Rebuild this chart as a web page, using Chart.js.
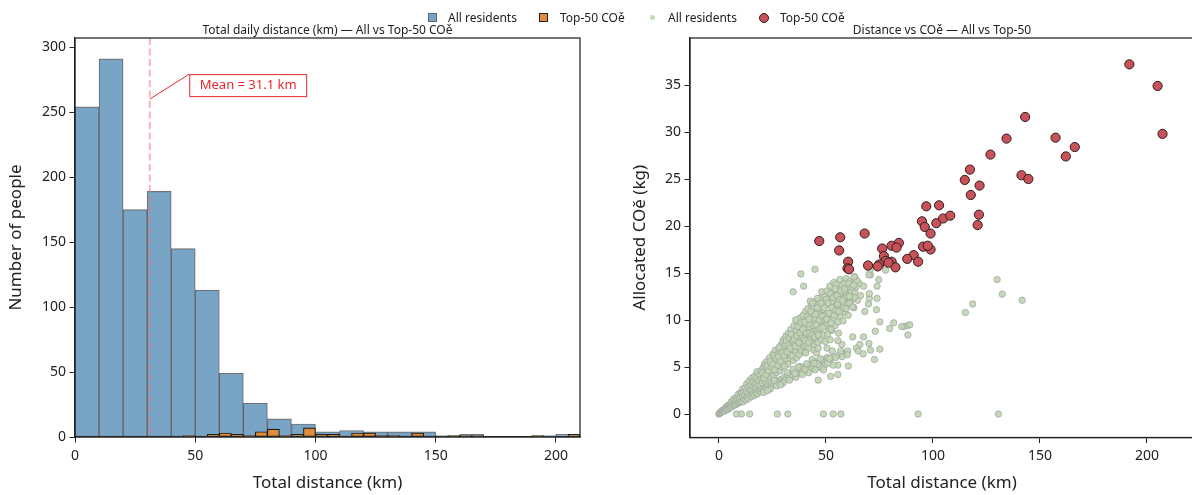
<!DOCTYPE html>
<html lang="en">
<head>
<meta charset="UTF-8" />
<title>Distance vs CO2e</title>
<script src="https://cdn.jsdelivr.net/npm/chart.js"></script>
<style>
  body { margin: 0; width: 1192px; height: 495px; overflow: hidden; background: #fff; position: relative; font-family: "Noto Sans", sans-serif; }
  canvas { position: absolute; top: 0; }
  #histChart { left: 0; }
  #scatChart { left: 600px; }
  .lg { position: absolute; top: 10px; font-size: 12px; line-height: 15px; color: #222; white-space: nowrap; }
  .sw { position: absolute; box-sizing: border-box; }
</style>
</head>
<body>
<canvas id="histChart" width="600" height="495"></canvas>
<canvas id="scatChart" width="600" height="495"></canvas>

<!-- shared legend -->
<div class="sw" style="left:428px;top:13px;width:9px;height:9px;background:#78a5c5;border:1px solid #5d6a74"></div>
<div class="lg" style="left:448px">All residents</div>
<div class="sw" style="left:539px;top:13px;width:9px;height:9px;background:#e08c3a;border:1px solid #222"></div>
<div class="lg" style="left:560px">Top-50 COě</div>
<div class="sw" style="left:650px;top:15px;width:5px;height:5px;border-radius:50%;background:#c3d8b5"></div>
<div class="lg" style="left:668px">All residents</div>
<div class="sw" style="left:759px;top:13px;width:10px;height:10px;border-radius:50%;background:#c9525a;border:1px solid #2b1d1d"></div>
<div class="lg" style="left:780px">Top-50 COě</div>

<script>
// histogram: all residents, 10 km bins from 0
const allBinStart = 0;
const allBinWidth = 10;
const allCounts = [254, 291, 175, 189, 145, 113, 49, 26, 14, 10, 4, 5, 4, 4, 4, 1, 2, 0, 0, 1, 2];

// histogram: top-50 emitters, 5 km bins from 45
const topBinStart = 45;
const topBinWidth = 5;
const topCounts = [1, 0, 2, 3, 2, 1, 4, 6, 1, 2, 7, 2, 2, 0, 3, 3, 1, 1, 0, 3, 0, 0, 1, 1, 1, 0, 0, 0, 0, 1, 0, 0, 2];

const meanDistance = 31.1;
const histXTicks = [0, 50, 100, 150, 200];
const histYTicks = [0, 50, 100, 150, 200, 250, 300];

// scatter: top-50 [km, kg]
const topPts = [
  [191.8, 37.2], [205.0, 34.9], [207.3, 29.8], [143.1, 31.6], [134.4, 29.3], [157.3, 29.4],
  [166.3, 28.4], [162.1, 27.4], [126.9, 27.6], [117.3, 26.0], [141.4, 25.4], [144.6, 25.0],
  [114.9, 24.9], [121.8, 24.3], [117.7, 23.3], [96.9, 22.1], [102.9, 22.2], [121.5, 21.2],
  [120.9, 20.1], [94.9, 20.5], [96.2, 19.9], [101.6, 20.3], [104.8, 20.8], [108.1, 21.1],
  [98.9, 19.2], [68.1, 19.2], [56.7, 18.8], [46.9, 18.4], [56.2, 17.4], [76.3, 17.6],
  [80.7, 17.9], [84.1, 18.2], [83.0, 17.7], [95.4, 17.8], [98.9, 17.5], [77.1, 16.8],
  [91.0, 16.9], [88.0, 16.5], [93.1, 16.2], [80.7, 16.2], [77.9, 16.3], [74.9, 15.9],
  [74.2, 15.7], [82.5, 15.6], [69.7, 15.8], [60.4, 16.2], [60.1, 15.5], [60.8, 15.4],
  [79.2, 16.1], [97.6, 17.9]
];

// scatter: all residents [km, kg]
const allZeroPts = [
  [0, 0], [8.2, 0], [10.5, 0], [14.4, 0], [27.3, 0], [32.2, 0], [48.8, 0], [53.4, 0], [57, 0], [93.1, 0], [130.6, 0]
];
const allNearOrigin = [
  [0.2, 0.05], [0.5, 0.1], [0.8, 0.15], [1.1, 0.2], [1.3, 0.3], [1.6, 0.3], [1.9, 0.4], [2.2, 0.45], [2.4, 0.3], [2.8, 0.55],
  [3.1, 0.4], [3.4, 0.75], [3.6, 0.45], [3.9, 0.8], [4.2, 0.5], [4.5, 0.95], [4.7, 0.6], [5.0, 0.7], [5.2, 1.0], [5.5, 0.85],
  [5.8, 1.3], [6.0, 0.75], [6.3, 1.1], [6.6, 0.9], [6.9, 1.6], [7.2, 0.95], [7.4, 1.4], [7.7, 1.2], [7.9, 1.0], [8.3, 1.8],
  [8.6, 1.1], [8.8, 1.5], [9.1, 2.1], [9.3, 1.2], [9.6, 1.7], [9.9, 1.25], [10.2, 2.3]
];
const allUpper = [
  [10.4, 2.2], [10.9, 1.9], [11.2, 2.7], [11.5, 2.3], [12.1, 2.0], [12.4, 2.8], [12.8, 2.4], [13.0, 3.2], [13.6, 2.2], [13.8, 2.9],
  [14.1, 3.5], [14.5, 2.6], [14.9, 3.1], [15.3, 3.8], [15.5, 2.5], [15.8, 3.4], [16.2, 2.9], [16.5, 4.0], [16.9, 3.2], [17.3, 2.8],
  [17.5, 3.9], [17.8, 4.5], [18.1, 3.1], [18.5, 3.6], [18.9, 4.2], [19.2, 3.0], [19.6, 4.6], [19.9, 3.7], [20.2, 3.3], [20.6, 4.9],
  [20.9, 4.0], [21.3, 5.3], [21.5, 3.5], [21.9, 4.6], [22.2, 3.9], [22.4, 5.6], [22.8, 4.3], [23.1, 3.7], [23.4, 5.2], [23.7, 6.0],
  [24.1, 4.5], [24.3, 3.9], [24.7, 5.5], [25.0, 4.8], [25.3, 6.4], [25.5, 4.1], [25.9, 5.9], [26.2, 5.1], [26.4, 6.8], [26.8, 4.4],
  [27.1, 5.6], [27.3, 6.3], [27.7, 4.7], [28.0, 6.9], [28.3, 5.3], [28.6, 4.6], [28.9, 6.1], [29.2, 7.4], [29.5, 5.0], [29.8, 6.6],
  [30.1, 7.9], [30.3, 5.4], [30.7, 6.9], [31.0, 5.9], [31.3, 8.3], [31.6, 6.3], [31.8, 7.4], [32.2, 5.3], [32.5, 8.6], [32.7, 6.8],
  [33.0, 7.7], [33.4, 5.9], [33.6, 9.0], [33.9, 6.5], [34.3, 8.1], [34.5, 7.2], [34.8, 5.7], [35.1, 9.4], [35.4, 6.8], [35.7, 8.4],
  [36.0, 7.6], [36.3, 6.0], [36.6, 9.8], [36.8, 7.1], [37.2, 8.8], [37.5, 6.3], [37.8, 10.2], [38.1, 7.9], [38.4, 9.1], [38.6, 6.7],
  [39.0, 8.4], [39.3, 10.5], [39.5, 7.3], [39.8, 9.5], [40.0, 6.6], [30.6, 5.1], [33.2, 6.4], [36.1, 8.9], [38.9, 7.6], [35.9, 10.0],
  [40.3, 8.7], [40.5, 10.9], [40.8, 7.2], [41.1, 9.9], [41.4, 8.2], [41.6, 11.2], [42.0, 7.0], [42.3, 9.3], [42.5, 10.6], [42.8, 8.0],
  [43.2, 11.6], [43.4, 7.5], [43.7, 9.8], [44.0, 8.8], [44.2, 11.3], [44.6, 7.3], [44.8, 10.2], [45.1, 9.1], [45.4, 12.0], [45.6, 8.1],
  [45.9, 10.7], [46.2, 7.6], [46.5, 9.6], [46.8, 11.7], [47.0, 8.6], [47.3, 10.3], [47.7, 12.4], [47.9, 7.9], [48.2, 9.9], [48.5, 11.1],
  [48.8, 8.4], [49.1, 12.7], [49.3, 10.5], [49.7, 7.7], [50.0, 9.4], [40.6, 6.5], [42.7, 12.0], [44.4, 6.8], [46.1, 12.3], [48.0, 13.0],
  [41.9, 9.6], [43.9, 10.6], [45.8, 8.6], [47.5, 11.3], [49.5, 11.8],
  [50.3, 11.6], [50.5, 13.1], [50.8, 8.5], [51.1, 10.2], [51.4, 12.3], [51.6, 9.1], [51.9, 13.6], [52.2, 10.8], [52.5, 11.9], [52.8, 8.9],
  [53.1, 12.9], [53.3, 10.1], [53.7, 14.0], [54.0, 11.4], [54.2, 9.4], [54.5, 12.6], [54.8, 13.8], [55.1, 10.7], [55.3, 12.1], [55.7, 9.8],
  [56.0, 13.3], [56.2, 11.5], [56.5, 14.3], [56.8, 10.4], [57.1, 12.7], [57.4, 13.7], [57.6, 11.1], [58.0, 9.9], [58.3, 12.3], [58.6, 13.9],
  [58.9, 10.8], [59.2, 12.9], [59.5, 14.4], [59.8, 11.7], [60.1, 13.4], [60.4, 10.5], [60.8, 12.6], [61.1, 14.1], [61.4, 11.9], [61.8, 13.0],
  [62.2, 12.3], [62.6, 13.8], [63.1, 11.3], [63.5, 12.9], [64.1, 13.5], [64.8, 12.1], [65.5, 13.9], [66.2, 12.6], [52.0, 7.9], [55.9, 8.6]
];
const allUpperMore = [
  [20.4, 4.4], [21.1, 3.8], [21.7, 5.0], [22.0, 4.2], [22.6, 5.1], [23.2, 4.6], [23.9, 5.6], [24.5, 5.0], [25.2, 5.3], [25.7, 6.2],
  [26.0, 4.7], [26.6, 5.9], [27.5, 5.2], [27.8, 6.1], [28.2, 7.1], [28.7, 5.6], [29.4, 6.5], [29.9, 7.6], [30.4, 6.2], [30.9, 7.3],
  [31.5, 7.8], [31.9, 6.6], [32.4, 7.3], [32.9, 8.1], [33.3, 7.0], [33.8, 8.5], [34.1, 6.2], [34.6, 7.8], [35.2, 8.0], [35.6, 7.2],
  [36.4, 8.3], [36.9, 9.3], [37.4, 7.6], [37.9, 8.6], [38.3, 9.7], [38.8, 8.1], [39.2, 9.0], [39.7, 8.0], [40.1, 9.8], [40.4, 7.8],
  [41.0, 8.6], [41.3, 10.4], [41.8, 7.6], [42.1, 10.1], [42.4, 8.6], [43.0, 10.9], [43.5, 8.4], [43.8, 11.8], [44.3, 9.4], [44.7, 8.2],
  [45.2, 10.6], [45.5, 9.5], [46.0, 11.3], [46.4, 8.4], [46.9, 10.0], [47.4, 9.1], [47.8, 11.8], [48.3, 10.4], [48.7, 9.2], [49.2, 11.3],
  [49.6, 10.0], [50.1, 12.2], [50.4, 10.1], [51.0, 11.8], [51.5, 10.7], [52.0, 12.8], [52.4, 9.7], [52.9, 11.3], [53.4, 12.4], [53.9, 10.5],
  [54.3, 13.3], [54.7, 11.0], [55.2, 12.6], [55.5, 11.7], [56.1, 10.9], [56.6, 12.2], [57.0, 13.1], [57.8, 12.1], [58.2, 11.3], [58.8, 13.3],
  [59.4, 11.2], [59.9, 12.5], [60.6, 13.9], [61.0, 11.8], [61.6, 12.4], [62.4, 13.5], [63.3, 12.4], [64.5, 14.2]
];
const allLower = [
  [10.5, 1.35], [11.2, 1.3], [11.8, 1.55], [12.6, 1.5], [13.3, 1.75], [13.9, 1.65], [14.6, 1.9], [15.4, 1.85], [16.0, 2.1], [16.7, 2.0],
  [17.4, 2.25], [18.0, 2.15], [18.8, 2.45], [19.5, 2.35], [20.1, 2.6], [20.8, 2.5], [21.6, 2.8], [22.3, 2.7], [23.0, 3.0], [23.8, 2.85],
  [24.6, 3.2], [25.4, 3.05], [26.1, 3.35], [26.9, 3.2], [27.6, 3.55], [28.4, 3.4], [29.1, 3.7], [29.9, 3.5], [30.6, 3.9], [31.4, 3.7],
  [32.1, 4.1], [32.9, 3.85], [33.7, 4.3], [34.4, 4.0], [35.2, 4.5], [36.0, 4.15], [36.8, 4.65], [37.5, 4.3], [38.3, 4.8], [39.1, 4.45],
  [39.8, 4.95], [40.6, 4.6], [41.5, 5.15], [42.3, 4.7], [43.1, 5.3], [44.0, 4.85], [44.9, 5.45], [45.8, 5.0], [46.7, 5.6], [47.6, 5.1],
  [48.5, 5.75], [49.4, 5.2], [50.3, 5.9], [21.0, 2.3], [24.0, 2.65], [27.0, 3.0], [30.0, 3.3], [33.0, 3.6], [36.0, 3.9], [39.0, 4.2],
  [42.0, 4.4], [45.0, 4.7], [48.0, 4.9], [34.8, 4.75], [38.0, 5.05], [41.0, 5.35], [44.2, 5.6], [47.3, 5.9], [50.7, 6.0], [53.5, 6.1],
  [56.2, 6.3], [59.0, 6.5], [25.8, 3.6], [31.9, 4.4], [37.1, 5.0], [43.6, 5.8], [22.7, 2.5], [28.8, 3.1],
  [52.0, 5.8], [54.5, 6.0], [57.5, 6.4], [60.2, 6.7], [35.5, 4.3], [40.2, 4.75], [46.2, 5.3]
];
const allOutliers = [
  [130.0, 14.3], [132.4, 12.75], [141.7, 12.1], [118.6, 11.7], [115.2, 10.8],
  [44.9, 15.4], [38.3, 14.9], [39.6, 13.6], [34.7, 13.0],
  [88.1, 9.4], [89.2, 9.5], [86.4, 9.3], [85.4, 9.3], [88.3, 8.4], [79.8, 9.1], [81.7, 9.7], [75.2, 9.8], [73.1, 8.8],
  [73.6, 11.1], [73.9, 12.3], [73.9, 13.6], [74.7, 14.3], [70.8, 14.8], [70.6, 15.3], [68.2, 10.9], [69.9, 11.7], [70.3, 12.3],
  [70.3, 12.8], [67.6, 13.6], [63.0, 13.7], [63.4, 14.6], [62.5, 11.4], [61.0, 12.5], [63.2, 14.6], [70.1, 14.8], [77.9, 15.3],
  [62.5, 8.2], [67.6, 8.2], [70.1, 7.5], [65.9, 7.4], [64.2, 7.0], [65.1, 6.7], [67.4, 6.4], [72.7, 5.8], [75.2, 6.9], [70.8, 6.8],
  [60.0, 6.3], [60.5, 5.1], [57.6, 6.1], [55.6, 5.2], [55.6, 4.2], [52.2, 4.0], [53.4, 5.2], [50.9, 5.4], [51.6, 5.9], [46.4, 3.6],
  [48.9, 4.7], [44.5, 5.4], [45.6, 6.5], [46.4, 7.0], [50.5, 7.0], [53.0, 6.7], [56.9, 6.7], [57.5, 7.4], [55.6, 7.8], [52.4, 9.0]
];
const allPts = [].concat(allZeroPts, allNearOrigin, allUpper, allUpperMore, allLower, allOutliers);

const scatXTicks = [0, 50, 100, 150, 200];
const scatYTicks = [0, 5, 10, 15, 20, 25, 30, 35];

const FONT = 'Noto Sans';
const INK = '#222';

// box round the plot area, like matplotlib spines
const framePlugin = {
  id: 'frame',
  afterDraw(chart) {
    const { ctx, chartArea: a } = chart;
    ctx.save();
    ctx.strokeStyle = INK;
    ctx.lineWidth = 1.25;
    ctx.strokeRect(a.left, a.top, a.right - a.left, a.bottom - a.top);
    ctx.restore();
  }
};

// dashed mean line and the label box
const meanPlugin = {
  id: 'meanLine',
  afterDatasetsDraw(chart) {
    const { ctx, chartArea: a, scales: { x, y } } = chart;
    const mx = x.getPixelForValue(meanDistance);
    ctx.save();
    ctx.strokeStyle = 'rgba(242, 110, 120, 0.55)';
    ctx.lineWidth = 1.8;
    ctx.setLineDash([7, 3.5]);
    ctx.beginPath();
    ctx.moveTo(mx, a.top);
    ctx.lineTo(mx, a.bottom);
    ctx.stroke();
    ctx.setLineDash([]);

    const label = 'Mean = ' + meanDistance + ' km';
    ctx.font = '13px "' + FONT + '"';
    const w = ctx.measureText(label).width + 20;
    const h = 22;
    const bx = x.getPixelForValue(47.5);
    const by = y.getPixelForValue(279.2);
    ctx.strokeStyle = '#e8262e';
    ctx.lineWidth = 1;
    ctx.beginPath();
    ctx.moveTo(mx, y.getPixelForValue(260));
    ctx.lineTo(bx, by);
    ctx.stroke();
    ctx.fillStyle = '#fff';
    ctx.fillRect(bx, by, w, h);
    ctx.strokeRect(bx + 0.5, by + 0.5, w, h);
    ctx.fillStyle = '#e8262e';
    ctx.textAlign = 'center';
    ctx.textBaseline = 'middle';
    ctx.fillText(label, bx + w / 2 + 0.5, by + h / 2 + 0.5);
    ctx.restore();
  }
};

const tickFont = { family: FONT, size: 14 };
const titleFont = { family: FONT, size: 17 };

function axisGrid() {
  return { offset: false, drawOnChartArea: false, drawTicks: true, tickLength: 5.5, tickWidth: 1, tickColor: INK };
}

new Chart(document.getElementById('histChart'), {
  type: 'bar',
  data: {
    datasets: [
      {
        label: 'Top-50 COě',
        xAxisID: 'xo',
        order: 0,
        data: topCounts.map((c, i) => ({ x: topBinStart + topBinWidth * (i + 0.5), y: c })),
        backgroundColor: '#e08c3a',
        borderColor: '#1a1a1a',
        borderWidth: 1.1,
        borderSkipped: false,
        barPercentage: 1,
        categoryPercentage: 1,
        grouped: false
      },
      {
        label: 'All residents',
        xAxisID: 'x',
        order: 1,
        data: allCounts.map((c, i) => ({ x: allBinStart + allBinWidth * (i + 0.5), y: c })),
        backgroundColor: '#78a5c5',
        borderColor: 'rgba(75, 80, 85, 0.8)',
        borderWidth: 1.2,
        borderSkipped: false,
        barPercentage: 1,
        categoryPercentage: 1,
        grouped: false
      }
    ]
  },
  options: {
    responsive: false,
    animation: false,
    devicePixelRatio: 1,
    layout: { padding: { left: 0, right: 20, top: 0, bottom: 0 } },
    plugins: {
      legend: { display: false },
      tooltip: { enabled: false },
      title: {
        display: true,
        text: 'Total daily distance (km) — All vs Top-50 COě',
        fullSize: false,
        color: INK,
        font: { family: FONT, size: 12, weight: 'normal' },
        padding: { top: 23, bottom: 0.6 }
      }
    },
    scales: {
      x: {
        type: 'linear',
        offset: false,
        min: 0,
        max: 210,
        afterBuildTicks: (s) => { s.ticks = histXTicks.map(v => ({ value: v })); },
        afterFit: (s) => { s.height = 58; },
        ticks: { color: INK, font: tickFont, padding: 5 },
        grid: axisGrid(),
        border: { display: true, color: INK, width: 1.25 },
        title: { display: true, text: 'Total distance (km)', color: INK, font: titleFont, padding: { top: 0, bottom: 2 } }
      },
      xo: {
        type: 'linear',
        display: false,
        offset: false,
        min: 0,
        max: 210
      },
      y: {
        min: 0,
        max: 307,
        afterBuildTicks: (s) => { s.ticks = histYTicks.map(v => ({ value: v })); },
        afterFit: (s) => { s.width = 75; },
        ticks: { color: INK, font: tickFont, padding: 3.5 },
        grid: axisGrid(),
        border: { display: true, color: INK, width: 1.25 },
        title: { display: true, text: 'Number of people', color: INK, font: titleFont, padding: { top: 6, bottom: 0 } }
      }
    }
  },
  plugins: [meanPlugin, framePlugin]
});

new Chart(document.getElementById('scatChart'), {
  type: 'scatter',
  data: {
    datasets: [
      {
        label: 'Top-50 COě',
        order: 0,
        data: topPts.map(p => ({ x: p[0], y: p[1] })),
        pointRadius: 4.6,
        backgroundColor: '#c9525a',
        borderColor: '#2b1d1d',
        borderWidth: 1
      },
      {
        label: 'All residents',
        order: 1,
        data: allPts.map(p => ({ x: p[0], y: p[1] })),
        pointRadius: 3.2,
        backgroundColor: 'rgba(192, 214, 178, 0.9)',
        borderColor: 'rgba(158, 162, 158, 0.8)',
        borderWidth: 0.9
      }
    ]
  },
  options: {
    responsive: false,
    animation: false,
    devicePixelRatio: 1,
    layout: { padding: { left: 0, right: 6, top: 0, bottom: 0 } },
    plugins: {
      legend: { display: false },
      tooltip: { enabled: false },
      title: {
        display: true,
        text: 'Distance vs COě — All vs Top-50',
        fullSize: false,
        color: INK,
        font: { family: FONT, size: 12, weight: 'normal' },
        padding: { top: 23, bottom: 0.6 }
      }
    },
    scales: {
      x: {
        type: 'linear',
        min: -13.5,
        max: 222,
        afterBuildTicks: (s) => { s.ticks = scatXTicks.map(v => ({ value: v })); },
        afterFit: (s) => { s.height = 57.5; },
        ticks: { color: INK, font: tickFont, padding: 5 },
        grid: axisGrid(),
        border: { display: true, color: INK, width: 1.25 },
        title: { display: true, text: 'Total distance (km)', color: INK, font: titleFont, padding: { top: 0, bottom: 2 } }
      },
      y: {
        min: -2.5,
        max: 40,
        afterBuildTicks: (s) => { s.ticks = scatYTicks.map(v => ({ value: v })); },
        afterFit: (s) => { s.width = 90; },
        ticks: { color: INK, font: tickFont, padding: 3.5 },
        grid: axisGrid(),
        border: { display: true, color: INK, width: 1.25 },
        title: { display: true, text: 'Allocated COě (kg)', color: INK, font: titleFont, padding: { top: 30, bottom: 0 } }
      }
    }
  },
  plugins: [framePlugin]
});
</script>
</body>
</html>
